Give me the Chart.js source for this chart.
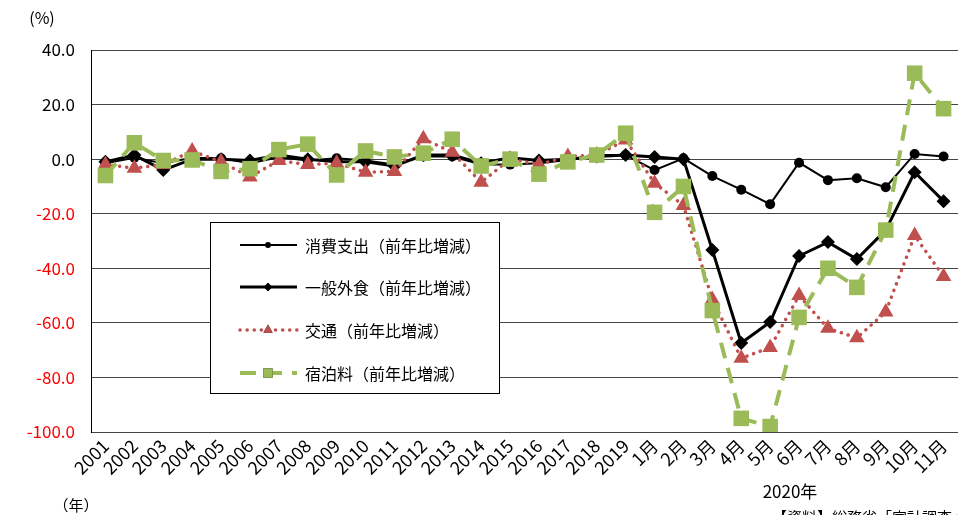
<!DOCTYPE html>
<html>
<head>
<meta charset="utf-8">
<script src="https://cdn.jsdelivr.net/npm/chart.js@4.4.1/dist/chart.umd.min.js"></script>
<style>
  html, body { margin: 0; padding: 0; background: #fff; }
  #wrap { width: 958px; height: 515px; }
</style>
</head>
<body>
<div id="wrap"><canvas id="graph" width="958" height="515"></canvas></div>
<script>
// catégories : années puis mois 2020
const annees = ['2001','2002','2003','2004','2005','2006','2007','2008','2009','2010',
  '2011','2012','2013','2014','2015','2016','2017','2018','2019'];
const mois = ['1月','2月','3月','4月','5月','6月','7月','8月','9月','10月','11月'];
const categories = annees.concat(mois);

// valeurs (%)
const shohiShishutsu = [-1.5, 0.5, -1.5, 0.5, 0.3, -1.5, 0.7, -0.5, 0.3, -0.5, -2, 1, 1, -2, -2, -1.5, -0.3, 1.5, 1.5,
  -4, 0.3, -6.2, -11.2, -16.5, -1.3, -7.7, -7, -10.3, 1.9, 1];
const ippanGaishoku = [-1, 1.5, -4, 0, 0, -0.5, 1.5, 0, -1, -1, -2.5, 1.5, 1.5, -1.5, 0.5, -0.5, 0, 1, 1.5,
  0.8, 0, -33.3, -67.4, -59.7, -35.5, -30.4, -36.6, -26, -4.8, -15.4];
const kotsu = [-2, -3.3, -2, 3, -1, -6.5, -0.5, -2, -1.5, -4.8, -4.5, 7.5, 2.5, -8.5, 0, -2, 1, 1.5, 7,
  -8.8, -17, -51.5, -73, -69, -50, -62, -65.5, -56, -28, -43];
const shukuhakuryo = [-6, 6, -0.5, -0.3, -4.5, -3.5, 3.5, 5.5, -5.8, 3, 0.8, 2.2, 7.3, -2.5, 0, -5.5, -1, 1.5, 9.5,
  -19.5, -10, -55.5, -95, -98, -58, -40, -47, -26, 31.5, 18.5];

const yTicks = [40, 20, 0, -20, -40, -60, -80, -100];

const police = '"Noto Sans CJK JP", "Noto Sans", sans-serif';
const rouge = '#C0504D';
const vert = '#9BBB59';

// légende dessinée dans la zone du graphique + textes annexes
const decor = {
  id: 'decor',
  afterDraw(chart) {
    const ctx = chart.ctx;
    ctx.save();
    // cadre de la légende
    ctx.fillStyle = '#fff';
    ctx.fillRect(210, 222, 289, 171);
    ctx.strokeStyle = '#000';
    ctx.lineWidth = 1;
    ctx.strokeRect(210.5, 222.5, 289, 171);

    const ys = [245, 287, 330, 373];
    chart.data.datasets.forEach((ds, i) => {
      const y = ys[i];
      ctx.save();
      ctx.strokeStyle = ds.borderColor;
      ctx.lineWidth = ds.borderWidth;
      ctx.lineCap = ds.borderCapStyle || 'butt';
      ctx.setLineDash(ds.borderDash || []);
      ctx.beginPath();
      ctx.moveTo(240, y);
      ctx.lineTo(297, y);
      ctx.stroke();
      ctx.restore();
      Chart.helpers.drawPoint(ctx, {
        pointStyle: ds.pointStyle,
        radius: ds.pointRadius * 0.6,
        borderWidth: 0
      }, 268, y);
      ctx.fillStyle = ds.pointBackgroundColor;
      ctx.fill();
      ctx.fillStyle = '#000';
      ctx.font = '16px ' + police;
      ctx.textBaseline = 'middle';
      ctx.textAlign = 'left';
      ctx.fillText(ds.label, 305, y + 1);
    });

    ctx.fillStyle = '#000';
    ctx.textAlign = 'center';
    ctx.textBaseline = 'middle';
    ctx.font = '16px ' + police;
    ctx.fillText('(%)', 42, 18);
    ctx.font = '15px ' + police;
    ctx.fillText('（年）', 76, 505);
    ctx.font = '17px ' + police;
    ctx.fillText('2020年', 790, 492);
    ctx.font = '15px ' + police;
    ctx.textAlign = 'left';
    ctx.textBaseline = 'top';
    ctx.fillText('【資料】総務省「家計調査」', 772, 510);
    ctx.restore();
  }
};

new Chart(document.getElementById('graph'), {
  type: 'line',
  data: {
    labels: categories,
    datasets: [
      {
        label: '消費支出（前年比増減）',
        data: shohiShishutsu,
        borderColor: '#000',
        backgroundColor: '#000',
        pointBackgroundColor: '#000',
        borderWidth: 2,
        pointStyle: 'circle',
        pointRadius: 5,
        pointBorderWidth: 0,
        order: 4
      },
      {
        label: '一般外食（前年比増減）',
        data: ippanGaishoku,
        borderColor: '#000',
        backgroundColor: '#000',
        pointBackgroundColor: '#000',
        borderWidth: 3,
        pointStyle: 'rectRot',
        pointRadius: 7,
        pointBorderWidth: 0,
        order: 3
      },
      {
        label: '交通（前年比増減）',
        data: kotsu,
        borderColor: rouge,
        backgroundColor: rouge,
        pointBackgroundColor: rouge,
        borderWidth: 3.5,
        borderDash: [0.1, 7],
        borderCapStyle: 'round',
        pointStyle: 'triangle',
        pointRadius: 9,
        pointBorderWidth: 0,
        order: 2
      },
      {
        label: '宿泊料（前年比増減）',
        data: shukuhakuryo,
        borderColor: vert,
        backgroundColor: vert,
        pointBackgroundColor: vert,
        borderWidth: 4,
        borderDash: [16, 10],
        pointStyle: 'rect',
        pointRadius: 11,
        pointBorderWidth: 0,
        order: 1
      }
    ]
  },
  options: {
    responsive: false,
    animation: false,
    layout: { autoPadding: false, padding: { top: 50, right: 0, left: 0, bottom: 0 } },
    plugins: {
      legend: { display: false },
      tooltip: { enabled: false }
    },
    scales: {
      x: {
        offset: true,
        grid: { display: false, drawTicks: false },
        border: { display: false },
        ticks: {
          autoSkip: false,
          maxRotation: 45,
          minRotation: 45,
          padding: 3,
          color: '#000',
          font: { family: police, size: 18 }
        },
        afterFit(scale) {
          scale.height = 83;
          scale.paddingLeft = 0;
          scale.paddingRight = 0;
        }
      },
      y: {
        min: -100,
        max: 40,
        afterBuildTicks(scale) { scale.ticks = yTicks.map(v => ({ value: v })); },
        grid: { color: '#444', lineWidth: 1, drawTicks: false },
        border: { display: true, color: '#000', width: 1 },
        ticks: {
          padding: 16,
          color: (c) => c.tick.value < 0 ? '#FF0000' : '#000',
          font: { family: police, size: 17 },
          callback: (v) => v.toFixed(1)
        },
        afterFit(scale) { scale.width = 91; }
      }
    }
  },
  plugins: [decor]
});
</script>
</body>
</html>
